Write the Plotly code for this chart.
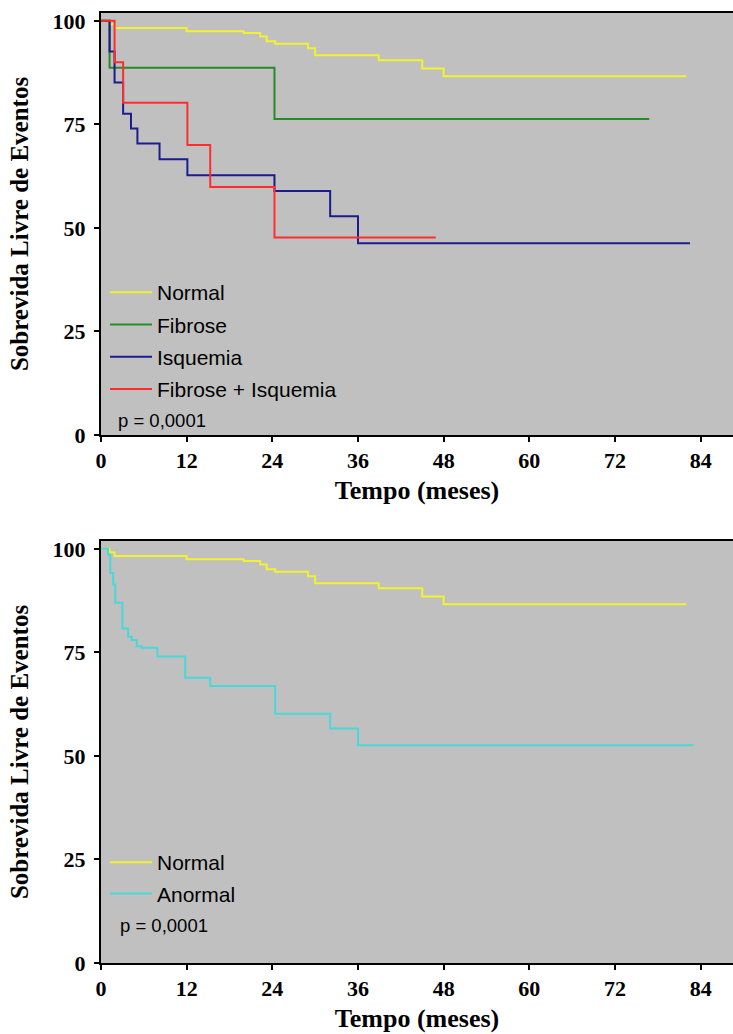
import plotly.graph_objects as go

# ---- data (months, event-free survival %) ----
normal_t = [0, 1.2, 1.9, 12.0, 20.0, 22.3, 23.2, 24.4, 29.0, 30.0, 38.9, 45.0, 48.0, 82.0]
normal_s = [100, 99.2, 98.3, 97.5, 97.1, 96.2, 95.1, 94.5, 93.4, 91.7, 90.5, 88.5, 86.6, 86.6]

fibrose_t = [0, 1.2, 24.3, 76.8]
fibrose_s = [100, 88.7, 76.3, 76.3]

isquemia_t = [0, 1.2, 1.9, 3.1, 4.2, 5.1, 8.2, 12.1, 24.3, 32.1, 36.0, 82.5]
isquemia_s = [100, 92.6, 85.1, 77.6, 74.0, 70.4, 66.6, 62.7, 58.9, 52.8, 46.3, 46.3]

fib_isq_t = [0, 1.9, 3.1, 12.1, 15.3, 24.3, 46.9]
fib_isq_s = [100, 90.0, 80.2, 70.0, 59.9, 47.7, 47.7]

anormal_t = [0, 1.0, 1.3, 1.7, 2.0, 3.0, 3.8, 4.3, 5.0, 5.7, 7.9, 11.8, 15.3, 24.4, 32.1, 36.0, 83.0]
anormal_s = [100, 98.6, 94.2, 91.4, 87.0, 80.8, 78.8, 78.0, 76.5, 76.1, 74.0, 68.9, 66.9, 60.2, 56.6, 52.6, 52.6]

x_ticks = [0, 12, 24, 36, 48, 60, 72, 84]
y_ticks = [0, 25, 50, 75, 100]
p_text = "p = 0,0001"

# ---- styling ----
C_NORMAL = "#f2f22e"
C_FIB = "#268a26"
C_ISQ = "#1c1c8e"
C_FISQ = "#ff2d2d"
C_ANORM = "#48d8d8"
BG = "#c0c0c0"
SERIF = "Liberation Serif, Times New Roman, serif"
SANS = "Liberation Sans, Arial, sans-serif"

fig = go.Figure()

top_series = [
    ("Normal", normal_t, normal_s, C_NORMAL),
    ("Fibrose", fibrose_t, fibrose_s, C_FIB),
    ("Isquemia", isquemia_t, isquemia_s, C_ISQ),
    ("Fibrose + Isquemia", fib_isq_t, fib_isq_s, C_FISQ),
]
for name, t, s, c in top_series:
    fig.add_trace(go.Scatter(
        x=t, y=s, name=name, mode="lines", line=dict(color=c, width=2, shape="hv"),
        xaxis="x", yaxis="y", legend="legend", legendgroup="a_" + name,
    ))

bottom_series = [
    ("Normal", normal_t, normal_s, C_NORMAL),
    ("Anormal", anormal_t, anormal_s, C_ANORM),
]
for name, t, s, c in bottom_series:
    fig.add_trace(go.Scatter(
        x=t, y=s, name=name, mode="lines", line=dict(color=c, width=2, shape="hv"),
        xaxis="x2", yaxis="y2", legend="legend2", legendgroup="b_" + name,
    ))

W, H = 733, 1034
ML, MR, MT, MB = 101, 0, 13, 71
plot_h = H - MT - MB

def dom(top_px, bot_px):
    return [(H - MB - bot_px) / plot_h, (H - MB - top_px) / plot_h]

tickfont = dict(family=SERIF, size=22, color="black", weight="bold")
xtitlefont = dict(family=SERIF, size=26, color="black", weight="bold")
ytitlefont = dict(family=SERIF, size=25, color="black", weight="bold")

def xaxis(anchor):
    return dict(
        anchor=anchor, domain=[0, 1], range=[0, 88.53], tickvals=x_ticks,
        ticks="outside", ticklen=5, tickwidth=2, tickcolor="black",
        showline=True, linewidth=2, linecolor="black", mirror=True,
        showgrid=False, zeroline=False, tickfont=tickfont,
        title=dict(text="Tempo (meses)", font=xtitlefont, standoff=8),
    )

def yaxis(anchor, domain):
    return dict(
        anchor=anchor, domain=domain, range=[0, 101.9], tickvals=y_ticks,
        ticks="outside", ticklen=5, tickwidth=2, tickcolor="black",
        showline=True, linewidth=2, linecolor="black",
        showgrid=False, zeroline=False, tickfont=tickfont, ticklabelstandoff=4,
        title=dict(text="Sobrevida Livre de Eventos", font=ytitlefont, standoff=17),
    )

leg_common = dict(
    bgcolor="rgba(0,0,0,0)", borderwidth=0, font=dict(family=SANS, size=21, color="black"),
    xanchor="left", yanchor="top", orientation="v", itemclick=False, itemwidth=42,
)

fig.update_layout(
    width=W, height=H, margin=dict(l=ML, r=MR, t=MT, b=MB, autoexpand=False),
    paper_bgcolor="white", plot_bgcolor=BG,
    xaxis=xaxis("y"),
    yaxis=yaxis("x", dom(13, 435)),
    xaxis2=xaxis("y2"),
    yaxis2=yaxis("x2", dom(541, 963)),
    legend=dict(x=4 / 632, y=dom(13, 435)[0] + 163 / plot_h, tracegroupgap=2, **leg_common),
    legend2=dict(x=4 / 632, y=dom(541, 963)[0] + 121 / plot_h, tracegroupgap=1, **leg_common),
    showlegend=True,
    annotations=[
        dict(text=p_text, xref="x domain", yref="y domain", x=(116 - ML) / 632, y=(435 - 420) / 422,
             xanchor="left", yanchor="middle", showarrow=False,
             font=dict(family=SANS, size=18.5, color="black")),
        dict(text=p_text, xref="x2 domain", yref="y2 domain", x=(118 - ML) / 632, y=(963 - 925) / 422,
             xanchor="left", yanchor="middle", showarrow=False,
             font=dict(family=SANS, size=18.5, color="black")),
    ],
)

fig.write_html("out.html")
